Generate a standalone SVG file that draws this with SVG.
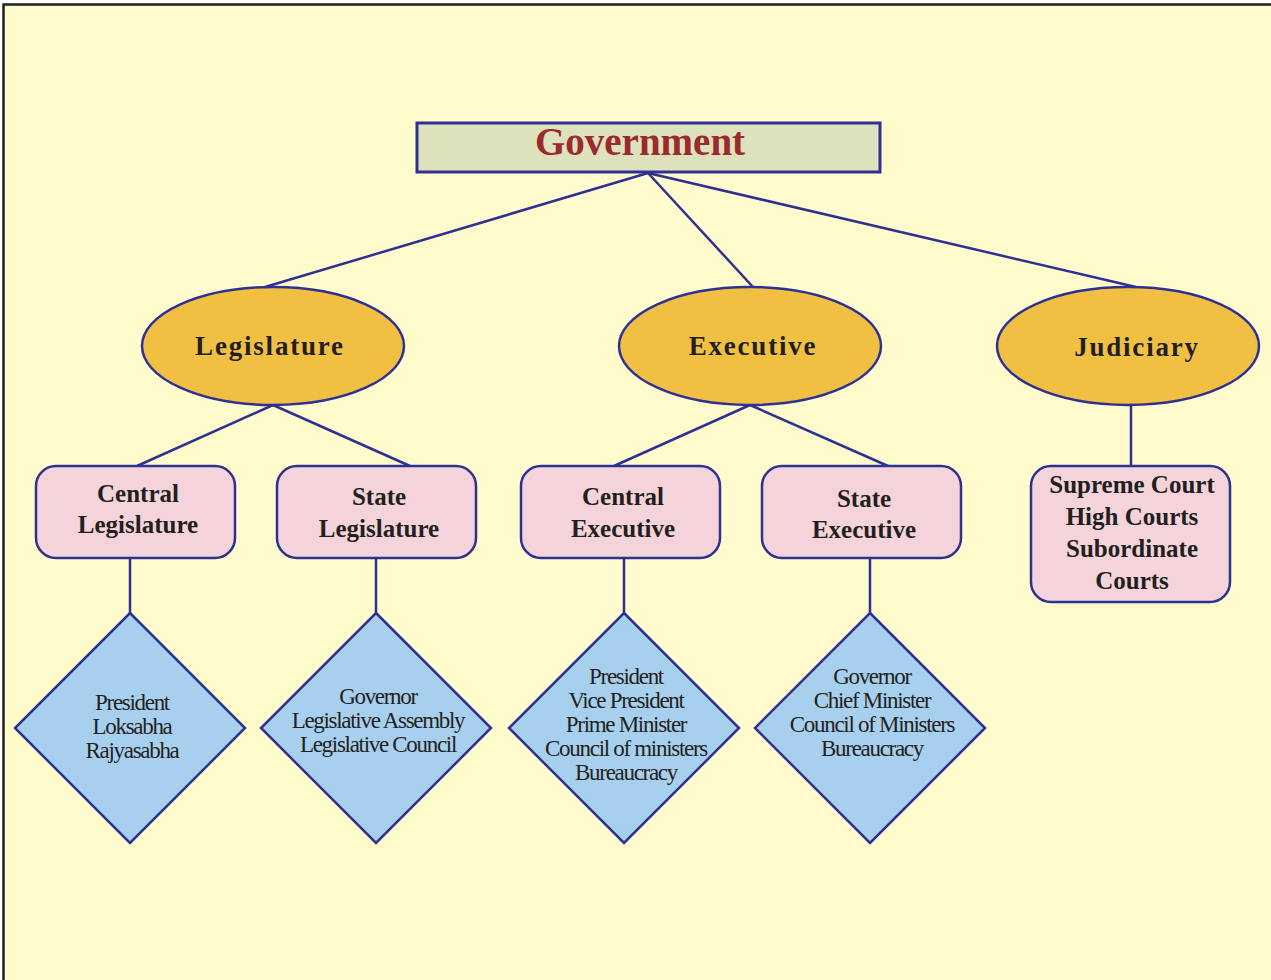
<svg xmlns="http://www.w3.org/2000/svg" width="1271" height="980" viewBox="0 0 1271 980">
<style>
.edge{stroke:#2E3192;stroke-width:2.5;fill:none}
.oval{fill:#F1C043;stroke:#2E3192;stroke-width:2.5}
.box{fill:#F4D3DA;stroke:#2E3192;stroke-width:2.5}
.dia{fill:#A7D0EF;stroke:#2E3192;stroke-width:2.5}
.t1{font-family:"Liberation Serif",serif;font-weight:bold;font-size:27px;letter-spacing:1.8px;fill:#231F20;text-anchor:middle}
.t2{font-family:"Liberation Serif",serif;font-weight:bold;font-size:25px;fill:#231F20;text-anchor:middle}
.t3{font-family:"Liberation Serif",serif;font-size:23px;letter-spacing:-1.3px;fill:#231F20;text-anchor:middle}
</style>
<rect x="0" y="0" width="1271" height="980" fill="#FFFFFF"/>
<rect id="frame" x="3.5" y="4.5" width="1300" height="1000" fill="#FFFBCC" stroke="#231F20" stroke-width="2.5"/>
<g id="connectors">
<line class="edge" x1="648" y1="173" x2="265" y2="287"/>
<line class="edge" x1="648" y1="173" x2="753" y2="287"/>
<line class="edge" x1="648" y1="173" x2="1136" y2="287"/>
<line class="edge" x1="273" y1="405" x2="137" y2="466"/>
<line class="edge" x1="273" y1="405" x2="410" y2="466"/>
<line class="edge" x1="750" y1="405" x2="614" y2="466"/>
<line class="edge" x1="750" y1="405" x2="888" y2="466"/>
<line class="edge" x1="1131" y1="405" x2="1131" y2="466"/>
<line class="edge" x1="130" y1="558" x2="130" y2="613"/>
<line class="edge" x1="376" y1="558" x2="376" y2="613"/>
<line class="edge" x1="624" y1="558" x2="624" y2="613"/>
<line class="edge" x1="870" y1="558" x2="870" y2="613"/>
</g>
<g id="government">
<rect x="417" y="123" width="463" height="49" fill="#DEE2BC" stroke="#2E3192" stroke-width="3"/>
<text x="640" y="155" font-family="Liberation Serif, serif" font-weight="bold" font-size="39" fill="#9B2A2E" text-anchor="middle">Government</text>
</g>
<g id="legislature">
<ellipse class="oval" cx="273" cy="346" rx="131" ry="59"/>
<text class="t1" x="270" y="355">Legislature</text>
</g>
<g id="executive">
<ellipse class="oval" cx="750" cy="346" rx="131" ry="59"/>
<text class="t1" x="753" y="355">Executive</text>
</g>
<g id="judiciary">
<ellipse class="oval" cx="1128" cy="346" rx="131" ry="59"/>
<text class="t1" x="1137" y="356">Judiciary</text>
</g>
<g id="central-legislature">
<rect class="box" x="36" y="466" width="199" height="92" rx="20"/>
<text class="t2" x="138" y="502">Central</text>
<text class="t2" x="138" y="533">Legislature</text>
</g>
<g id="state-legislature">
<rect class="box" x="277" y="466" width="199" height="92" rx="20"/>
<text class="t2" x="379" y="505">State</text>
<text class="t2" x="379" y="537">Legislature</text>
</g>
<g id="central-executive">
<rect class="box" x="521" y="466" width="199" height="92" rx="20"/>
<text class="t2" x="623" y="505">Central</text>
<text class="t2" x="623" y="537">Executive</text>
</g>
<g id="state-executive">
<rect class="box" x="762" y="466" width="199" height="92" rx="20"/>
<text class="t2" x="864" y="507">State</text>
<text class="t2" x="864" y="538">Executive</text>
</g>
<g id="courts">
<rect class="box" x="1031" y="466" width="199" height="136" rx="20"/>
<text class="t2" x="1132" y="493">Supreme Court</text>
<text class="t2" x="1132" y="525">High Courts</text>
<text class="t2" x="1132" y="557">Subordinate</text>
<text class="t2" x="1132" y="589">Courts</text>
</g>
<g id="central-legislature-members">
<polygon class="dia" points="130,613 245,728 130,843 15,728"/>
<text class="t3" x="132" y="710">President</text>
<text class="t3" x="132" y="734">Loksabha</text>
<text class="t3" x="132" y="758">Rajyasabha</text>
</g>
<g id="state-legislature-members">
<polygon class="dia" points="376,613 491,728 376,843 261,728"/>
<text class="t3" x="378" y="704">Governor</text>
<text class="t3" x="378" y="728">Legislative Assembly</text>
<text class="t3" x="378" y="752">Legislative Council</text>
</g>
<g id="central-executive-members">
<polygon class="dia" points="624,613 739,728 624,843 509,728"/>
<text class="t3" x="626" y="684">President</text>
<text class="t3" x="626" y="708">Vice President</text>
<text class="t3" x="626" y="732">Prime Minister</text>
<text class="t3" x="626" y="756">Council of ministers</text>
<text class="t3" x="626" y="780">Bureaucracy</text>
</g>
<g id="state-executive-members">
<polygon class="dia" points="870,613 985,728 870,843 755,728"/>
<text class="t3" x="872" y="684">Governor</text>
<text class="t3" x="872" y="708">Chief Minister</text>
<text class="t3" x="872" y="732">Council of Ministers</text>
<text class="t3" x="872" y="756">Bureaucracy</text>
</g>
</svg>
